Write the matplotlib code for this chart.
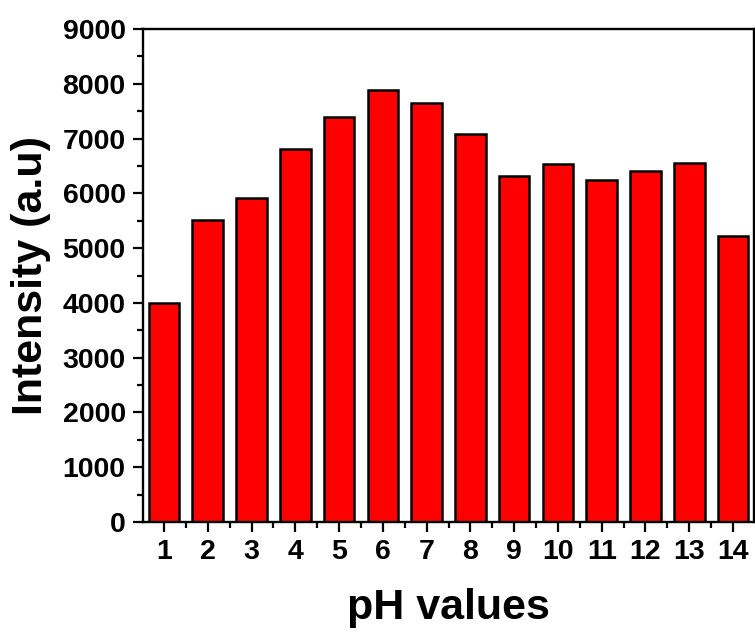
import matplotlib
matplotlib.use("Agg")
import matplotlib.pyplot as plt
from matplotlib.ticker import MultipleLocator

ph = [1, 2, 3, 4, 5, 6, 7, 8, 9, 10, 11, 12, 13, 14]
intensity = [3990, 5507, 5915, 6815, 7388, 7892, 7643, 7083, 6322, 6535, 6237, 6400, 6553, 5221]

plt.rcParams['font.family'] = ['Liberation Sans', 'DejaVu Sans']
plt.rcParams['font.weight'] = 'bold'

fig = plt.figure(figsize=(7.55, 6.32), dpi=100)
ax = fig.add_axes([143/755, 1-522/632, (754-143)/755, (522-29)/632])

ax.bar(ph, intensity, width=0.7, color='#ff0000', edgecolor='black', linewidth=1.8, zorder=2)

ax.set_xlim(0.52, 14.48)
ax.set_ylim(0, 9000)
ax.set_xticks(ph)
ax.set_xticklabels([str(p) for p in ph])
ax.yaxis.set_major_locator(MultipleLocator(1000))
ax.yaxis.set_minor_locator(MultipleLocator(500))
ax.xaxis.set_minor_locator(MultipleLocator(0.5))

ax.tick_params(which='major', direction='out', length=7.5, width=1.6, labelsize=20.5, pad=5)
ax.tick_params(which='minor', direction='out', length=4.5, width=1.6)
ax.tick_params(top=False, right=False, which='both')
for lab in ax.get_xticklabels() + ax.get_yticklabels():
    lab.set_fontweight('bold')
for s in ax.spines.values():
    s.set_linewidth(1.7)

ax.set_xlabel('pH values', fontsize=31, fontweight='bold', labelpad=16)
ax.set_ylabel('Intensity (a.u)', fontsize=31, fontweight='bold', labelpad=8)

fig.savefig('out.png', dpi=100)
